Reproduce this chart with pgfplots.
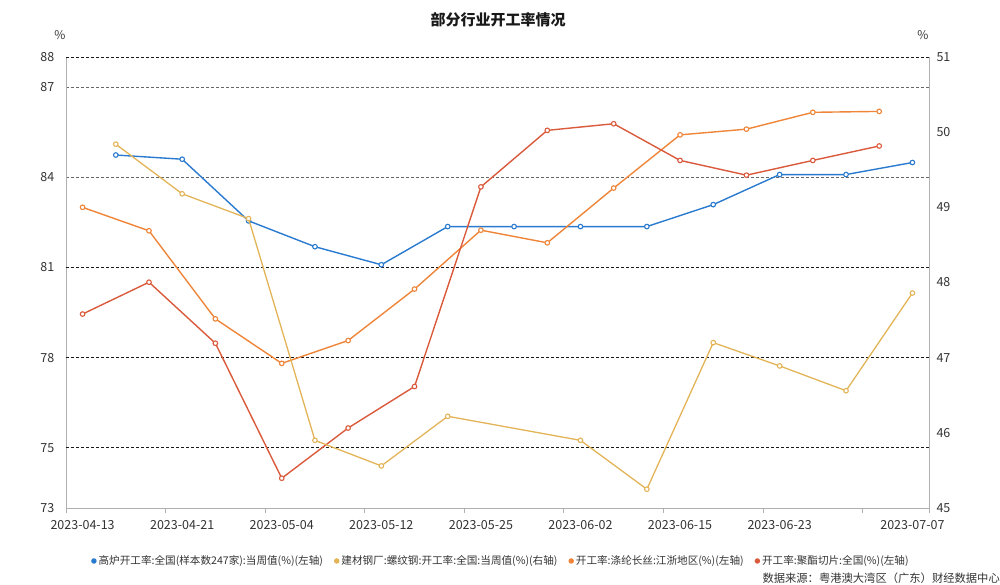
\documentclass[border=0pt]{standalone}
\usepackage{pgfplots}
\pgfplotsset{compat=1.18}
\usepackage{fontspec}
\setmainfont{Noto Sans CJK SC}
\definecolor{cblue}{HTML}{2A7BD0}
\definecolor{cyellow}{HTML}{E3B457}
\definecolor{corange}{HTML}{EE8538}
\definecolor{cred}{HTML}{DA5A3C}
\definecolor{ctext}{HTML}{333333}
\definecolor{caxis}{HTML}{B0B0B0}
\pgfplotsset{
  common/.style={
    scale only axis, width=863pt, height=451pt,
    xmin=-0.5, xmax=25.5,
    /pgf/number format/assume math mode=true,
    ytick style={draw=none},
    yticklabel style={font=\fontsize{12.5}{14}\selectfont, text=ctext},
    axis line style={-},
  },
  ser/.style={#1, line width=1.4pt, mark=*, mark size=2.3pt, mark options={fill=white, solid, line width=1.1pt}},
}
\begin{document}
\begin{tikzpicture}
\useasboundingbox (-66pt,-77pt) rectangle (934pt,508pt);
\begin{axis}[common,
  ymin=73, ymax=88,
  axis x line*=bottom, axis y line*=left,
  x axis line style={draw=caxis, line width=0.8pt},
  y axis line style={draw=caxis, line width=0.8pt},
  ytick={73,75,78,81,84,87,88},
  yticklabel style={xshift=-4pt},
  xtick={0,3,6,9,12,15,18,21,25},
  xticklabels={2023-04-13,2023-04-21,2023-05-04,2023-05-12,2023-05-25,2023-06-02,2023-06-15,2023-06-23,2023-07-07},
  xticklabel style={font=\fontsize{12.5}{14}\selectfont, text=ctext, yshift=-5pt},
  major x tick style={draw=none},
  minor xtick={-0.5,2.5,5.5,8.5,11.5,14.5,17.5,20.5,23.5,25.5},
  minor x tick style={draw=caxis, line width=0.8pt},
  minor tick length=5pt, tick align=outside,
  minor ytick={84,87}, yminorgrids,
  minor grid style={draw=black!60, dash pattern=on 3pt off 2pt, line width=0.9pt},
  extra y ticks={75,78,81,88}, extra y tick labels={},
  extra y tick style={grid=major, major grid style={draw=black!90, dash pattern=on 3pt off 2pt, line width=0.9pt}},
  legend columns=4,
  legend image code/.code={\fill[#1] (0pt,0pt) circle (2pt);},
  legend style={at={(0.504,-0.1175)}, anchor=center, draw=none, fill=none,
    font=\fontsize{10.6}{12}\selectfont, text=ctext,
    /tikz/every even column/.append style={column sep=9pt}},
]
\addplot[ser=cblue] coordinates {(1,84.74) (3,84.60) (5,82.55) (7,81.69) (9,81.09) (11,82.36) (13,82.36) (15,82.36) (17,82.36) (19,83.09) (21,84.09) (23,84.09) (25,84.49)};
\addlegendentry{高炉开工率:全国(样本数247家):当周值(\%)(左轴)}
\addlegendimage{ser=cyellow}
\addlegendentry{建材钢厂:螺纹钢:开工率:全国:当周值(\%)(右轴)}
\addplot[ser=corange] coordinates {(0,83.00) (2,82.22) (4,79.29) (6,77.81) (8,78.57) (10,80.28) (12,82.24) (14,81.82) (16,83.64) (18,85.41) (20,85.60) (22,86.16) (24,86.19)};
\addlegendentry{开工率:涤纶长丝:江浙地区(\%)(左轴)}
\addplot[ser=cred] coordinates {(0,79.45) (2,80.51) (4,78.48) (6,73.99) (8,75.66) (10,77.04) (12,83.68) (14,85.56) (16,85.78) (18,84.56) (20,84.07) (22,84.56) (24,85.04)};
\addlegendentry{开工率:聚酯切片:全国(\%)(左轴)}
\end{axis}
\begin{axis}[common,
  ymin=45, ymax=51,
  axis x line=none, axis y line*=right,
  y axis line style={draw=caxis, line width=0.8pt},
  ytick={45,46,47,48,49,50,51},
  yticklabel style={xshift=4pt},
]
\addplot[ser=cyellow, line width=1.3pt] coordinates {(1,49.84) (3,49.18) (5,48.85) (7,45.90) (9,45.56) (11,46.22) (15,45.90) (17,45.25) (19,47.20) (21,46.89) (23,46.56) (25,47.86)};
\end{axis}
\node[font=\bfseries\fontsize{15}{17}\selectfont, text=black!90] at (432pt,488pt) {部分行业开工率情况};
\node[font=\fontsize{12}{13}\selectfont, text=ctext] at (-6pt,473pt) {\%};
\node[font=\fontsize{12}{13}\selectfont, text=ctext] at (857pt,473pt) {\%};
\node[anchor=east, inner sep=0pt, font=\fontsize{11.3}{13}\selectfont, text=ctext] at (934pt,-70pt) {数据来源：粤港澳大湾区（广东）财经数据中心};
\end{tikzpicture}
\end{document}
